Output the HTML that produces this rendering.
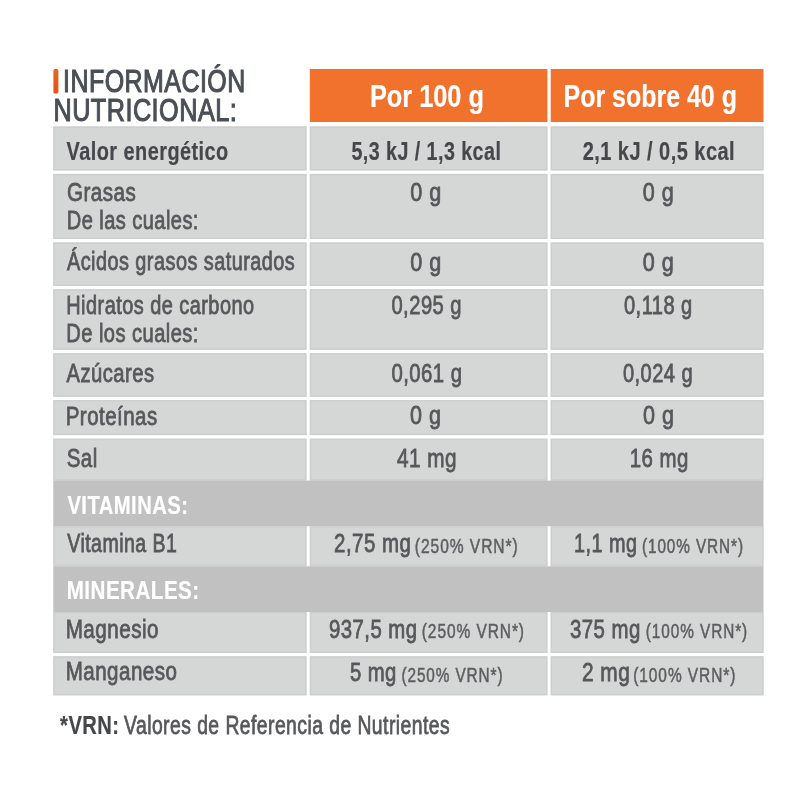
<!DOCTYPE html>
<html><head><meta charset="utf-8"><title>Información nutricional</title>
<style>html,body{margin:0;padding:0;background:#fff;width:800px;height:800px;overflow:hidden}
svg{display:block;filter:blur(0.45px)} text{font-family:"Liberation Sans",Arial,sans-serif}</style></head>
<body><svg width="800" height="800" viewBox="0 0 800 800">
<rect width="800" height="800" fill="#fff"/>
<rect x="309.80" y="69.00" width="237.60" height="53.00" fill="#f0722c"/>
<rect x="550.70" y="69.00" width="212.80" height="53.00" fill="#f0722c"/>
<rect x="53.30" y="126.50" width="253.20" height="43.90" fill="#d5d6d6"/>
<rect x="54.00" y="127.20" width="251.80" height="42.50" fill="none" stroke="#cdcece" stroke-width="1.4"/>
<rect x="309.80" y="126.50" width="237.60" height="43.90" fill="#d5d6d6"/>
<rect x="310.50" y="127.20" width="236.20" height="42.50" fill="none" stroke="#cdcece" stroke-width="1.4"/>
<rect x="550.70" y="126.50" width="212.80" height="43.90" fill="#d5d6d6"/>
<rect x="551.40" y="127.20" width="211.40" height="42.50" fill="none" stroke="#cdcece" stroke-width="1.4"/>
<rect x="53.30" y="173.90" width="253.20" height="65.10" fill="#d5d6d6"/>
<rect x="54.00" y="174.60" width="251.80" height="63.70" fill="none" stroke="#cdcece" stroke-width="1.4"/>
<rect x="309.80" y="173.90" width="237.60" height="65.10" fill="#d5d6d6"/>
<rect x="310.50" y="174.60" width="236.20" height="63.70" fill="none" stroke="#cdcece" stroke-width="1.4"/>
<rect x="550.70" y="173.90" width="212.80" height="65.10" fill="#d5d6d6"/>
<rect x="551.40" y="174.60" width="211.40" height="63.70" fill="none" stroke="#cdcece" stroke-width="1.4"/>
<rect x="53.30" y="242.50" width="253.20" height="43.50" fill="#d5d6d6"/>
<rect x="54.00" y="243.20" width="251.80" height="42.10" fill="none" stroke="#cdcece" stroke-width="1.4"/>
<rect x="309.80" y="242.50" width="237.60" height="43.50" fill="#d5d6d6"/>
<rect x="310.50" y="243.20" width="236.20" height="42.10" fill="none" stroke="#cdcece" stroke-width="1.4"/>
<rect x="550.70" y="242.50" width="212.80" height="43.50" fill="#d5d6d6"/>
<rect x="551.40" y="243.20" width="211.40" height="42.10" fill="none" stroke="#cdcece" stroke-width="1.4"/>
<rect x="53.30" y="289.30" width="253.20" height="60.40" fill="#d5d6d6"/>
<rect x="54.00" y="290.00" width="251.80" height="59.00" fill="none" stroke="#cdcece" stroke-width="1.4"/>
<rect x="309.80" y="289.30" width="237.60" height="60.40" fill="#d5d6d6"/>
<rect x="310.50" y="290.00" width="236.20" height="59.00" fill="none" stroke="#cdcece" stroke-width="1.4"/>
<rect x="550.70" y="289.30" width="212.80" height="60.40" fill="#d5d6d6"/>
<rect x="551.40" y="290.00" width="211.40" height="59.00" fill="none" stroke="#cdcece" stroke-width="1.4"/>
<rect x="53.30" y="353.20" width="253.20" height="43.60" fill="#d5d6d6"/>
<rect x="54.00" y="353.90" width="251.80" height="42.20" fill="none" stroke="#cdcece" stroke-width="1.4"/>
<rect x="309.80" y="353.20" width="237.60" height="43.60" fill="#d5d6d6"/>
<rect x="310.50" y="353.90" width="236.20" height="42.20" fill="none" stroke="#cdcece" stroke-width="1.4"/>
<rect x="550.70" y="353.20" width="212.80" height="43.60" fill="#d5d6d6"/>
<rect x="551.40" y="353.90" width="211.40" height="42.20" fill="none" stroke="#cdcece" stroke-width="1.4"/>
<rect x="53.30" y="400.10" width="253.20" height="35.00" fill="#d5d6d6"/>
<rect x="54.00" y="400.80" width="251.80" height="33.60" fill="none" stroke="#cdcece" stroke-width="1.4"/>
<rect x="309.80" y="400.10" width="237.60" height="35.00" fill="#d5d6d6"/>
<rect x="310.50" y="400.80" width="236.20" height="33.60" fill="none" stroke="#cdcece" stroke-width="1.4"/>
<rect x="550.70" y="400.10" width="212.80" height="35.00" fill="#d5d6d6"/>
<rect x="551.40" y="400.80" width="211.40" height="33.60" fill="none" stroke="#cdcece" stroke-width="1.4"/>
<rect x="53.30" y="438.70" width="253.20" height="41.90" fill="#d5d6d6"/>
<rect x="54.00" y="439.40" width="251.80" height="40.50" fill="none" stroke="#cdcece" stroke-width="1.4"/>
<rect x="309.80" y="438.70" width="237.60" height="41.90" fill="#d5d6d6"/>
<rect x="310.50" y="439.40" width="236.20" height="40.50" fill="none" stroke="#cdcece" stroke-width="1.4"/>
<rect x="550.70" y="438.70" width="212.80" height="41.90" fill="#d5d6d6"/>
<rect x="551.40" y="439.40" width="211.40" height="40.50" fill="none" stroke="#cdcece" stroke-width="1.4"/>
<rect x="53.30" y="480.60" width="710.20" height="45.60" fill="#c1c1c1"/>
<rect x="53.30" y="526.20" width="253.20" height="40.10" fill="#d5d6d6"/>
<rect x="54.00" y="526.90" width="251.80" height="38.70" fill="none" stroke="#cdcece" stroke-width="1.4"/>
<rect x="309.80" y="526.20" width="237.60" height="40.10" fill="#d5d6d6"/>
<rect x="310.50" y="526.90" width="236.20" height="38.70" fill="none" stroke="#cdcece" stroke-width="1.4"/>
<rect x="550.70" y="526.20" width="212.80" height="40.10" fill="#d5d6d6"/>
<rect x="551.40" y="526.90" width="211.40" height="38.70" fill="none" stroke="#cdcece" stroke-width="1.4"/>
<rect x="53.30" y="566.30" width="710.20" height="45.70" fill="#c1c1c1"/>
<rect x="53.30" y="612.00" width="253.20" height="41.00" fill="#d5d6d6"/>
<rect x="54.00" y="612.70" width="251.80" height="39.60" fill="none" stroke="#cdcece" stroke-width="1.4"/>
<rect x="309.80" y="612.00" width="237.60" height="41.00" fill="#d5d6d6"/>
<rect x="310.50" y="612.70" width="236.20" height="39.60" fill="none" stroke="#cdcece" stroke-width="1.4"/>
<rect x="550.70" y="612.00" width="212.80" height="41.00" fill="#d5d6d6"/>
<rect x="551.40" y="612.70" width="211.40" height="39.60" fill="none" stroke="#cdcece" stroke-width="1.4"/>
<rect x="53.30" y="656.30" width="253.20" height="39.00" fill="#d5d6d6"/>
<rect x="54.00" y="657.00" width="251.80" height="37.60" fill="none" stroke="#cdcece" stroke-width="1.4"/>
<rect x="309.80" y="656.30" width="237.60" height="39.00" fill="#d5d6d6"/>
<rect x="310.50" y="657.00" width="236.20" height="37.60" fill="none" stroke="#cdcece" stroke-width="1.4"/>
<rect x="550.70" y="656.30" width="212.80" height="39.00" fill="#d5d6d6"/>
<rect x="551.40" y="657.00" width="211.40" height="37.60" fill="none" stroke="#cdcece" stroke-width="1.4"/>
<defs><linearGradient id="gb" x1="0" y1="0" x2="0" y2="1"><stop offset="0" stop-color="#e2661f"/><stop offset="1" stop-color="#e8501a"/></linearGradient></defs>
<rect x="53.4" y="68.9" width="5" height="24.7" rx="1.6" fill="url(#gb)"/>
<text transform="translate(63.00 91.75) scale(0.8155 1)" font-size="30.6" fill="#4b4f57" stroke="#4b4f57" stroke-width="1.1" letter-spacing="0.6">INFORMACIÓN</text>
<text transform="translate(53.48 121.25) scale(0.8239 1)" font-size="30.6" fill="#4b4f57" stroke="#4b4f57" stroke-width="1.1" letter-spacing="0.6">NUTRICIONAL:</text>
<text transform="translate(369.90 107.00) scale(0.8049 1)" font-size="31.5" font-weight="bold" fill="#ffffff" stroke="#ffffff" stroke-width="0.2">Por 100 g</text>
<text transform="translate(563.52 107.00) scale(0.7929 1)" font-size="31.5" font-weight="bold" fill="#ffffff" stroke="#ffffff" stroke-width="0.2">Por sobre 40 g</text>
<text transform="translate(66.58 159.60) scale(0.7657 1)" font-size="26" font-weight="bold" fill="#45474a" stroke="#45474a" stroke-width="0.2" letter-spacing="0.6">Valor energético</text>
<text transform="translate(351.47 160.00) scale(0.7564 1)" font-size="26" font-weight="bold" fill="#45474a" stroke="#45474a" stroke-width="0.2" letter-spacing="0.6">5,3 kJ / 1,3 kcal</text>
<text transform="translate(582.65 160.00) scale(0.7698 1)" font-size="26" font-weight="bold" fill="#45474a" stroke="#45474a" stroke-width="0.2" letter-spacing="0.6">2,1 kJ / 0,5 kcal</text>
<text transform="translate(66.95 200.60) scale(0.7947 1)" font-size="26" fill="#57585b" stroke="#57585b" stroke-width="0.8" letter-spacing="0.6">Grasas</text>
<text transform="translate(66.74 229.00) scale(0.7701 1)" font-size="26" fill="#57585b" stroke="#57585b" stroke-width="0.8" letter-spacing="0.6">De las cuales:</text>
<text transform="translate(410.17 200.90) scale(0.8300 1)" font-size="26" fill="#57585b" stroke="#57585b" stroke-width="0.8" letter-spacing="0.6">0 g</text>
<text transform="translate(642.72 200.90) scale(0.8300 1)" font-size="26" fill="#57585b" stroke="#57585b" stroke-width="0.8" letter-spacing="0.6">0 g</text>
<text transform="translate(66.91 269.60) scale(0.7654 1)" font-size="26" fill="#57585b" stroke="#57585b" stroke-width="0.8" letter-spacing="0.6">Ácidos grasos saturados</text>
<text transform="translate(410.17 271.30) scale(0.8300 1)" font-size="26" fill="#57585b" stroke="#57585b" stroke-width="0.8" letter-spacing="0.6">0 g</text>
<text transform="translate(642.72 271.30) scale(0.8300 1)" font-size="26" fill="#57585b" stroke="#57585b" stroke-width="0.8" letter-spacing="0.6">0 g</text>
<text transform="translate(66.25 313.75) scale(0.7676 1)" font-size="26" fill="#57585b" stroke="#57585b" stroke-width="0.8" letter-spacing="0.6">Hidratos de carbono</text>
<text transform="translate(66.24 342.00) scale(0.7730 1)" font-size="26" fill="#57585b" stroke="#57585b" stroke-width="0.8" letter-spacing="0.6">De los cuales:</text>
<text transform="translate(391.43 314.00) scale(0.7764 1)" font-size="26" fill="#57585b" stroke="#57585b" stroke-width="0.8" letter-spacing="0.6">0,295 g</text>
<text transform="translate(623.98 314.00) scale(0.7729 1)" font-size="26" fill="#57585b" stroke="#57585b" stroke-width="0.8" letter-spacing="0.6">0,118 g</text>
<text transform="translate(66.56 382.30) scale(0.7773 1)" font-size="26" fill="#57585b" stroke="#57585b" stroke-width="0.8" letter-spacing="0.6">Azúcares</text>
<text transform="translate(391.43 381.50) scale(0.7814 1)" font-size="26" fill="#57585b" stroke="#57585b" stroke-width="0.8" letter-spacing="0.6">0,061 g</text>
<text transform="translate(622.93 381.50) scale(0.7713 1)" font-size="26" fill="#57585b" stroke="#57585b" stroke-width="0.8" letter-spacing="0.6">0,024 g</text>
<text transform="translate(65.71 424.50) scale(0.7883 1)" font-size="26" fill="#57585b" stroke="#57585b" stroke-width="0.8" letter-spacing="0.6">Proteínas</text>
<text transform="translate(409.95 424.40) scale(0.8300 1)" font-size="26" fill="#57585b" stroke="#57585b" stroke-width="0.8" letter-spacing="0.6">0 g</text>
<text transform="translate(642.90 424.40) scale(0.8300 1)" font-size="26" fill="#57585b" stroke="#57585b" stroke-width="0.8" letter-spacing="0.6">0 g</text>
<text transform="translate(66.67 466.70) scale(0.7894 1)" font-size="26" fill="#57585b" stroke="#57585b" stroke-width="0.8" letter-spacing="0.6">Sal</text>
<text transform="translate(396.90 466.90) scale(0.7976 1)" font-size="26" fill="#57585b" stroke="#57585b" stroke-width="0.8" letter-spacing="0.6">41 mg</text>
<text transform="translate(629.64 466.90) scale(0.7862 1)" font-size="26" fill="#57585b" stroke="#57585b" stroke-width="0.8" letter-spacing="0.6">16 mg</text>
<text transform="translate(67.43 513.90) scale(0.7772 1)" font-size="26" font-weight="bold" fill="#ffffff" stroke="#ffffff" stroke-width="0.2" letter-spacing="0.6">VITAMINAS:</text>
<text transform="translate(67.30 552.40) scale(0.7521 1)" font-size="26" fill="#57585b" stroke="#57585b" stroke-width="0.8" letter-spacing="0.6">Vitamina B1</text>
<text transform="translate(334.11 552.40) scale(0.7866 1)" font-size="26" fill="#57585b" stroke="#57585b" stroke-width="0.8" letter-spacing="0.6">2,75 mg</text>
<text transform="translate(414.86 552.50) scale(0.7797 1)" font-size="20" fill="#5d5e61" stroke="#5d5e61" stroke-width="0.5" letter-spacing="1.2">(250% VRN*)</text>
<text transform="translate(574.06 552.40) scale(0.7637 1)" font-size="26" fill="#57585b" stroke="#57585b" stroke-width="0.8" letter-spacing="0.6">1,1 mg</text>
<text transform="translate(641.97 552.50) scale(0.7659 1)" font-size="20" fill="#5d5e61" stroke="#5d5e61" stroke-width="0.5" letter-spacing="1.2">(100% VRN*)</text>
<text transform="translate(66.69 598.90) scale(0.7928 1)" font-size="26" font-weight="bold" fill="#ffffff" stroke="#ffffff" stroke-width="0.2" letter-spacing="0.6">MINERALES:</text>
<text transform="translate(65.71 638.25) scale(0.7937 1)" font-size="26" fill="#57585b" stroke="#57585b" stroke-width="0.8" letter-spacing="0.6">Magnesio</text>
<text transform="translate(328.96 638.00) scale(0.7826 1)" font-size="26" fill="#57585b" stroke="#57585b" stroke-width="0.8" letter-spacing="0.6">937,5 mg</text>
<text transform="translate(421.77 638.00) scale(0.7751 1)" font-size="20" fill="#5d5e61" stroke="#5d5e61" stroke-width="0.5" letter-spacing="1.2">(250% VRN*)</text>
<text transform="translate(569.88 638.00) scale(0.7853 1)" font-size="26" fill="#57585b" stroke="#57585b" stroke-width="0.8" letter-spacing="0.6">375 mg</text>
<text transform="translate(645.77 638.00) scale(0.7682 1)" font-size="20" fill="#5d5e61" stroke="#5d5e61" stroke-width="0.5" letter-spacing="1.2">(100% VRN*)</text>
<text transform="translate(65.71 680.25) scale(0.7905 1)" font-size="26" fill="#57585b" stroke="#57585b" stroke-width="0.8" letter-spacing="0.6">Manganeso</text>
<text transform="translate(349.93 681.20) scale(0.7802 1)" font-size="26" fill="#57585b" stroke="#57585b" stroke-width="0.8" letter-spacing="0.6">5 mg</text>
<text transform="translate(401.47 681.50) scale(0.7659 1)" font-size="20" fill="#5d5e61" stroke="#5d5e61" stroke-width="0.5" letter-spacing="1.2">(250% VRN*)</text>
<text transform="translate(581.94 681.20) scale(0.8038 1)" font-size="26" fill="#57585b" stroke="#57585b" stroke-width="0.8" letter-spacing="0.6">2 mg</text>
<text transform="translate(633.22 681.50) scale(0.7739 1)" font-size="20" fill="#5d5e61" stroke="#5d5e61" stroke-width="0.5" letter-spacing="1.2">(100% VRN*)</text>
<text transform="translate(60.08 733.75) scale(0.7758 1)" font-size="26" font-weight="bold" fill="#45474a" stroke="#45474a" stroke-width="0.2" letter-spacing="0.6">*VRN:</text>
<text transform="translate(124.05 733.75) scale(0.7444 1)" font-size="26" fill="#57585b" stroke="#57585b" stroke-width="0.8" letter-spacing="0.6">Valores de Referencia de Nutrientes</text>
</svg></body></html>
